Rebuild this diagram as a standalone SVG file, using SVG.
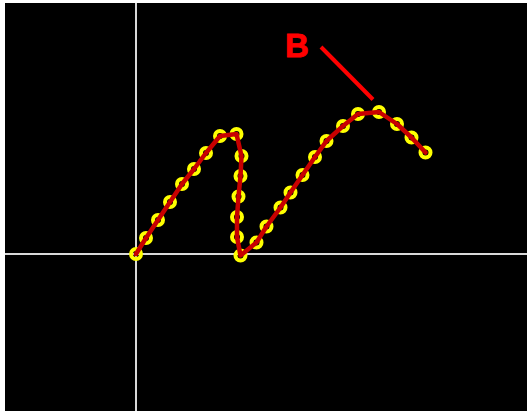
<svg xmlns="http://www.w3.org/2000/svg" width="527" height="415" viewBox="0 0 527 415">
<style>
.axis{stroke:#d8d8d8;stroke-width:2;fill:none}
.curve{stroke:#c80000;stroke-width:4.5;fill:none;stroke-linejoin:round;stroke-linecap:round}
.pt{fill:none;stroke:#ffff00;stroke-width:4}
.lbl{font-family:"Liberation Sans",Arial,sans-serif;font-weight:bold;font-size:33px;fill:#ff0000}
.lead{stroke:#ff0000;stroke-width:4}
</style>
<rect x="0" y="0" width="527" height="415" fill="#ffffff"/>
<rect x="5" y="3" width="522" height="408" fill="#000000"/>
<g id="axes">
<line class="axis" x1="136" y1="3" x2="136" y2="411"/>
<line class="axis" x1="5" y1="254" x2="527" y2="254"/>
</g>
<g id="points">
<circle class="pt" cx="136" cy="254" r="5"/>
<circle class="pt" cx="146" cy="238" r="5"/>
<circle class="pt" cx="158" cy="220" r="5"/>
<circle class="pt" cx="170" cy="202" r="5"/>
<circle class="pt" cx="182" cy="184" r="5"/>
<circle class="pt" cx="194" cy="169" r="5"/>
<circle class="pt" cx="206" cy="153" r="5"/>
<circle class="pt" cx="220" cy="136" r="5"/>
<circle class="pt" cx="236.5" cy="134" r="5"/>
<circle class="pt" cx="241.5" cy="156" r="5"/>
<circle class="pt" cx="240.5" cy="176" r="5"/>
<circle class="pt" cx="238.5" cy="196.5" r="5"/>
<circle class="pt" cx="237" cy="217" r="5"/>
<circle class="pt" cx="237" cy="237" r="5"/>
<circle class="pt" cx="240.5" cy="255.5" r="5"/>
<circle class="pt" cx="256.5" cy="242.5" r="5"/>
<circle class="pt" cx="266.5" cy="226.5" r="5"/>
<circle class="pt" cx="280.5" cy="207.5" r="5"/>
<circle class="pt" cx="290.5" cy="192.5" r="5"/>
<circle class="pt" cx="302.5" cy="175" r="5"/>
<circle class="pt" cx="315" cy="157" r="5"/>
<circle class="pt" cx="326.5" cy="141" r="5"/>
<circle class="pt" cx="343" cy="126" r="5"/>
<circle class="pt" cx="358" cy="114" r="5"/>
<circle class="pt" cx="379" cy="112" r="5"/>
<circle class="pt" cx="397" cy="124" r="5"/>
<circle class="pt" cx="411.5" cy="137.5" r="5"/>
<circle class="pt" cx="425.5" cy="152.5" r="5"/>
</g>
<g id="connectors">
<polyline class="curve" points="136,254 146,238 158,220 170,202 182,184 194,169 206,153 220,136 236.5,134 241.5,156 240.5,176 238.5,196.5 237,217 237,237 240.5,255.5 256.5,242.5 266.5,226.5 280.5,207.5 290.5,192.5 302.5,175 315,157 326.5,141 343,126 358,114 379,112 397,124 411.5,137.5 425.5,152.5"/>
<line class="lead" x1="321" y1="47" x2="373" y2="99.5"/>
</g>
<g id="label-B">
<text class="lbl" x="285" y="57" stroke="#ff0000" stroke-width="0.8">B</text>
</g>
</svg>
